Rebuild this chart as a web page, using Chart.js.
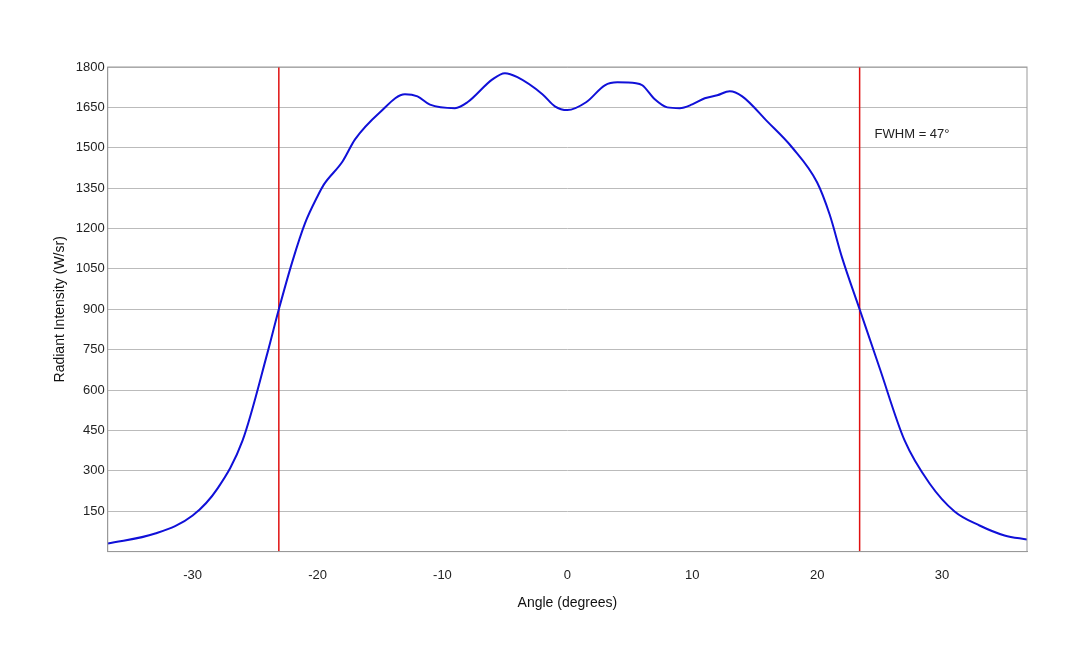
<!DOCTYPE html>
<html>
<head>
<meta charset="utf-8">
<script src="https://cdn.jsdelivr.net/npm/chart.js@4"></script>
<style>
body { margin: 0; background: #fff; }
#wrap { width: 1080px; height: 648px; }
</style>
</head>
<body>
<div id="wrap"><canvas id="c"></canvas></div>
<script>
// angle (degrees) and radiant intensity (W/sr)
const angles = [-36.8, -33, -30, -28, -26, -24, -23.1, -22, -21, -20, -19.5, -18, -17, -15, -13, -12, -11, -9, -8, -6, -5, -4, -2, -1, 0, 1.5, 3, 4, 5.5, 6, 7, 8, 9, 10, 11, 12, 13, 14, 16, 18, 20, 21, 22, 23.4, 25, 27, 29, 31, 33, 35, 36.8];
const intensity = [30, 67, 134, 235, 413, 740, 900, 1080, 1220, 1320, 1363, 1449, 1531, 1632, 1699, 1691, 1660, 1647, 1669, 1754, 1777, 1762, 1699, 1654, 1640, 1669, 1732, 1743, 1740, 1732, 1680, 1650, 1647, 1661, 1684, 1695, 1710, 1691, 1598, 1501, 1371, 1252, 1091, 900, 682, 413, 253, 149, 97, 60, 45];
const fwhmLeft = -23.1;
const fwhmRight = 23.4;
const xTicks = [-30, -20, -10, 0, 10, 20, 30];
const fwhmLabel = 'FWHM = 47°';

const points = angles.map((a, i) => ({ x: a, y: intensity[i] }));

const annotate = {
  id: 'annotate',
  afterDraw(chart) {
    const { ctx, chartArea, scales } = chart;
    ctx.save();
    ctx.strokeStyle = '#999';
    ctx.lineWidth = 1;
    ctx.strokeRect(chartArea.left, chartArea.top, chartArea.right - chartArea.left, chartArea.bottom - chartArea.top);
    ctx.fillStyle = '#222';
    ctx.font = '13px "Liberation Sans", Arial';
    ctx.textBaseline = 'middle';
    ctx.fillText(fwhmLabel, scales.x.getPixelForValue(24.6), scales.y.getPixelForValue(1550));
    ctx.restore();
  }
};

new Chart(document.getElementById('c'), {
  type: 'line',
  data: {
    datasets: [
      { data: points, borderColor: '#1010d8', borderWidth: 2, pointRadius: 0, cubicInterpolationMode: 'monotone' },
      { data: [{ x: fwhmLeft, y: 0 }, { x: fwhmLeft, y: 1800 }], borderColor: '#e01010', borderWidth: 1.5, pointRadius: 0 },
      { data: [{ x: fwhmRight, y: 0 }, { x: fwhmRight, y: 1800 }], borderColor: '#e01010', borderWidth: 1.5, pointRadius: 0 }
    ]
  },
  options: {
    responsive: true,
    maintainAspectRatio: false,
    animation: false,
    layout: { padding: { left: 48, top: 67, right: 53, bottom: 32 } },
    plugins: { legend: { display: false }, tooltip: { enabled: false } },
    scales: {
      x: {
        type: 'linear', min: -36.8, max: 36.8,
        afterBuildTicks: s => { s.ticks = xTicks.map(v => ({ value: v })); },
        grid: { display: false },
        border: { color: '#999' },
        ticks: { color: '#222', font: { family: 'Liberation Sans', size: 13 }, padding: 8 },
        title: { display: true, text: 'Angle (degrees)', color: '#111', font: { family: 'Liberation Sans', size: 14 } }
      },
      y: {
        min: 0, max: 1800,
        ticks: { stepSize: 150, color: '#222', font: { family: 'Liberation Sans', size: 13 }, callback: v => v === 0 ? '' : v },
        grid: { color: '#bbb', drawTicks: false },
        border: { color: '#999' },
        title: { display: true, text: 'Radiant Intensity (W/sr)', color: '#111', font: { family: 'Liberation Sans', size: 14 } }
      }
    }
  },
  plugins: [annotate]
});
</script>
</body>
</html>
